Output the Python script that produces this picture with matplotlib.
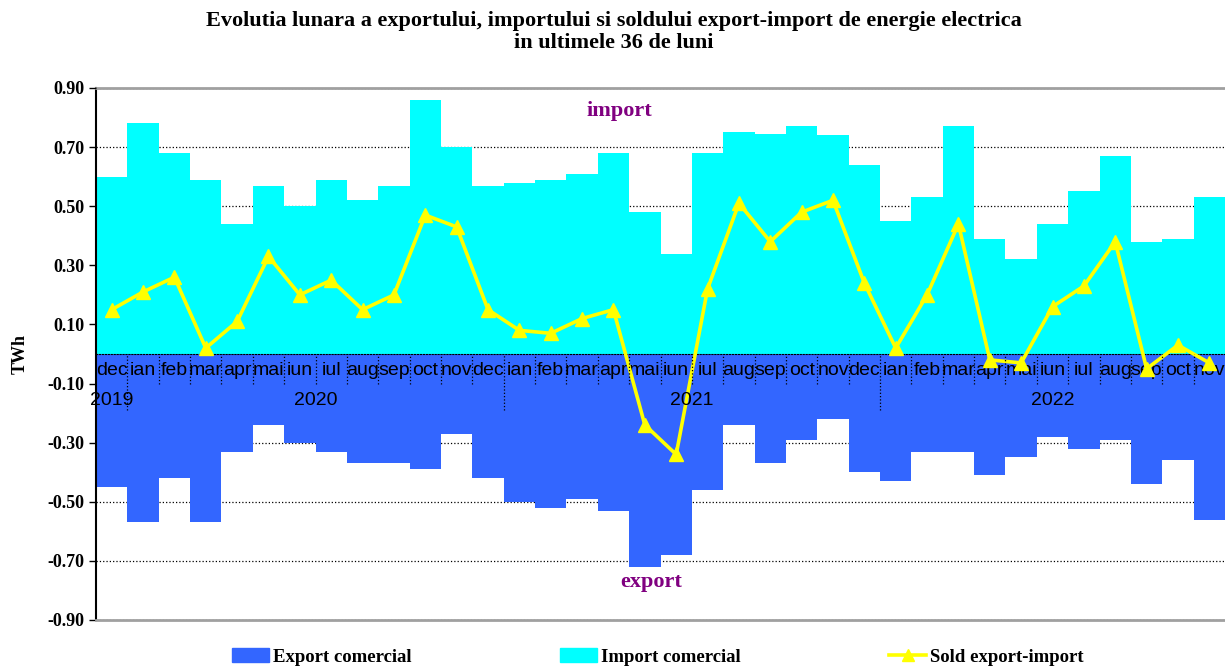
import matplotlib
matplotlib.use('Agg')
import matplotlib.pyplot as plt
from matplotlib.patches import Patch
from matplotlib.lines import Line2D

# date lunare, dec 2019 - nov 2022 (TWh)
luni = ['dec', 'ian', 'feb', 'mar', 'apr', 'mai', 'iun', 'iul', 'aug', 'sep', 'oct', 'nov',
        'dec', 'ian', 'feb', 'mar', 'apr', 'mai', 'iun', 'iul', 'aug', 'sep', 'oct', 'nov',
        'dec', 'ian', 'feb', 'mar', 'apr', 'mai', 'iun', 'iul', 'aug', 'sep', 'oct', 'nov']
ani = ['2019', '2020', '2021', '2022']

import_com = [0.60, 0.78, 0.68, 0.59, 0.44, 0.57, 0.50, 0.59, 0.52, 0.57, 0.86, 0.70,
              0.57, 0.58, 0.59, 0.61, 0.68, 0.48, 0.34, 0.68, 0.75, 0.745, 0.77, 0.74,
              0.64, 0.45, 0.53, 0.77, 0.39, 0.32, 0.44, 0.55, 0.67, 0.38, 0.39, 0.53]
export_com = [-0.45, -0.57, -0.42, -0.57, -0.33, -0.24, -0.30, -0.33, -0.37, -0.37, -0.39, -0.27,
              -0.42, -0.50, -0.52, -0.49, -0.53, -0.72, -0.68, -0.46, -0.24, -0.37, -0.29, -0.22,
              -0.40, -0.43, -0.33, -0.33, -0.41, -0.35, -0.28, -0.32, -0.29, -0.44, -0.36, -0.56]
sold = [0.15, 0.21, 0.26, 0.02, 0.11, 0.33, 0.20, 0.25, 0.15, 0.20, 0.47, 0.43,
        0.15, 0.08, 0.07, 0.12, 0.15, -0.24, -0.34, 0.22, 0.51, 0.38, 0.48, 0.52,
        0.24, 0.02, 0.20, 0.44, -0.02, -0.03, 0.16, 0.23, 0.38, -0.05, 0.03, -0.03]

SERIF = 'Liberation Serif'
SANS = 'Liberation Sans'
C_EXP = '#3366FF'
C_IMP = '#00FFFF'
C_SOLD = '#FFFF00'

fig = plt.figure(figsize=(12.25, 6.66), dpi=100)
ax = fig.add_axes([96/1225, 46/666, 1129/1225, 532/666])
ax.set_axisbelow(False)

x = list(range(len(luni)))
ax.bar(x, import_com, width=1.0, color=C_IMP, linewidth=0, zorder=1)
ax.bar(x, export_com, width=1.0, color=C_EXP, linewidth=0, zorder=1)
ax.plot(x, sold, color=C_SOLD, lw=2.6, marker='^', ms=10, zorder=5)

ax.set_xlim(-0.5, len(luni) - 0.5)
ax.set_ylim(-0.9, 0.9)
yt = [0.9, 0.7, 0.5, 0.3, 0.1, -0.1, -0.3, -0.5, -0.7, -0.9]
ax.set_yticks(yt)
ax.set_yticklabels(['%.2f' % v for v in yt], fontfamily=SERIF, fontweight='bold', fontsize=13)
for v in yt:
    ax.axhline(v, linestyle=':', color='black', lw=0.9, zorder=0.5)
ax.tick_params(axis='y', length=5, width=1, direction='out')
ax.set_ylabel('TWh', fontfamily=SERIF, fontweight='bold', fontsize=13, labelpad=13)

# axa x pe linia de zero
ax.spines['bottom'].set_position(('data', 0))
ax.spines['bottom'].set_linestyle(':')
ax.spines['bottom'].set_linewidth(0.8)
ax.spines['right'].set_visible(False)
ax.spines['top'].set_color('#a0a0a0')
ax.spines['top'].set_linewidth(2)
ax.spines['left'].set_linewidth(1.5)
ax.axhline(-0.9, color='#a0a0a0', lw=2, zorder=6, clip_on=False)
ax.set_xticks(x)
ax.set_xticklabels(luni, fontfamily=SANS, fontsize=14)
ax.tick_params(axis='x', length=0, pad=6)

# separatori luni si ani
starts = [i for i, m in enumerate(luni) if m == 'ian']
ax.vlines([i + 0.5 for i in x[:-1] if i + 1 not in starts], -0.1, 0,
          colors='black', linestyles=':', lw=0.9, zorder=6)
ax.vlines([s - 0.5 for s in starts], -0.19, 0, colors='black', linestyles=':', lw=0.9, zorder=6)
edges = [0] + starts + [len(luni)]
for k, an in enumerate(ani):
    ax.text((edges[k] + edges[k + 1] - 1) / 2, -0.158, an, fontfamily=SANS, fontsize=14,
            ha='center', va='center', zorder=7)

ax.text(16.2, 0.822, 'import', color='#800080', fontfamily=SERIF, fontweight='bold',
        fontsize=16, ha='center', va='center')
ax.text(17.2, -0.77, 'export', color='#800080', fontfamily=SERIF, fontweight='bold',
        fontsize=16, ha='center', va='center')

fig.text(0.501, 1 - 32/666,
         'Evolutia lunara a exportului, importului si soldului export-import de energie electrica\n'
         'in ultimele 36 de luni',
         ha='center', va='center', fontfamily=SERIF, fontweight='bold', fontsize=16,
         linespacing=1.1)

handles = [Patch(color=C_EXP), Patch(color=C_IMP),
           Line2D([], [], color=C_SOLD, lw=2.6, marker='^', ms=9)]
fig.legend(handles, ['Export comercial', 'Import comercial', 'Sold export-import'],
           ncol=3, loc='center', bbox_to_anchor=(0.537, 1 - 657/666), frameon=False,
           prop=dict(family=SERIF, weight='bold', size=13.5),
           columnspacing=7.9, handlelength=2.0, handletextpad=0.2)

fig.savefig('out.png', dpi=100)
